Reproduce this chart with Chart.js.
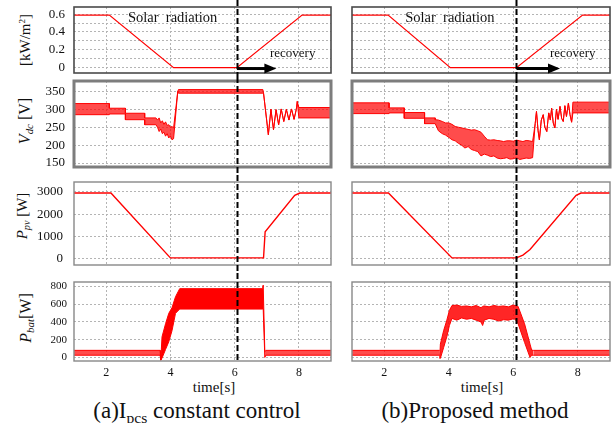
<!DOCTYPE html>
<html>
<head>
<meta charset="utf-8">
<script src="https://cdn.jsdelivr.net/npm/chart.js@4.4.1/dist/chart.umd.min.js"></script>
<style>
  body { margin: 0; background: #fff; }
  #fig { position: relative; width: 616px; height: 423px; overflow: hidden;
         font-family: "Liberation Serif", "Times New Roman", serif; color: #111; }
  #fig canvas { position: absolute; }
  .lbl { position: absolute; white-space: nowrap; line-height: 1; transform: translate(-50%, -50%); }
  .rot { transform: translate(-50%, -50%) rotate(-90deg); }
  .lbl sub { font-size: 0.68em; vertical-align: baseline; position: relative; top: 0.32em; }
  .lbl sup { font-size: 0.6em; vertical-align: baseline; position: relative; top: -0.55em; }
</style>
</head>
<body>
<div id="fig">
  <div class="lbl rot" style="left:25px;top:40px;font-size:15px">[kW/m<sup>2</sup>]</div>
  <div class="lbl rot" style="left:25px;top:121px;font-size:16px"><i>V<sub>dc</sub></i> [V]</div>
  <div class="lbl rot" style="left:22px;top:216px;font-size:15px"><i>P<sub>pv</sub></i> [W]</div>
  <div class="lbl rot" style="left:26px;top:318px;font-size:16px"><i>P<sub>bat</sub></i>[W]</div>
  <div class="lbl" style="left:214px;top:387px;font-size:15px">time[s]</div>
  <div class="lbl" style="left:482px;top:387px;font-size:15px">time[s]</div>
  <div class="lbl" style="left:197px;top:410px;font-size:23px">(a)I<sub>pcs</sub> constant control</div>
  <div class="lbl" style="left:475px;top:410px;font-size:23px">(b)Proposed method</div>
</div>
<script>
// ---- data ----
const timeTicks = [2, 4, 6, 8];
const timeLabels = ['2', '4', '6', '8'];

const solarTicks = [0, 0.1, 0.2, 0.3, 0.4, 0.5, 0.6];
const solarLabels = ['0', '', '0.2', '', '0.4', '', '0.6'];
const vdcTicks = [150, 200, 250, 300, 350];
const vdcLabels = ['150', '200', '250', '300', '350'];
const pvTicks = [0, 1000, 2000, 3000];
const pvLabels = ['0', '1000', '2000', '3000'];
const batTicks = [0, 200, 400, 600, 800];
const batLabels = ['0', '200', '400', '600', '800'];

// moment the dashed marker is drawn (s)
const eventA = 6.07;
const eventB = 6.1;

// solar radiation [kW/m2]
const solarTimeA = [1, 2.1, 4.1, 6.07, 8.1, 9];
const solarA = [0.59, 0.59, 0, 0, 0.59, 0.59];
const solarTimeB = [1, 2.12, 4.05, 6.1, 8.15, 9];
const solarB = [0.59, 0.59, 0, 0, 0.59, 0.59];

// DC link voltage: upper / lower edge of the ripple
const vdcTimeA = [1, 2.1, 2.1, 2.6, 2.6, 3.2, 3.2, 3.55,
  3.55, 3.6, 3.65, 3.7, 3.75, 3.8, 3.85, 3.9, 3.95, 4.0, 4.05, 4.1,
  4.23, 4.25, 6.88, 6.9, 7.05, 7.13, 7.21, 7.29, 7.37, 7.45, 7.53, 7.61, 7.69, 7.77, 7.85, 7.92, 7.95, 8.0, 9];
const vdcHiA = [316, 316, 303, 303, 289, 289, 276, 276,
  276, 270, 276, 262, 268, 258, 265, 255, 257, 250, 252, 248,
  350, 355, 355, 345, 229, 300, 243, 299, 257, 301, 266, 300, 270, 301, 272, 300, 322, 305, 305];
const vdcLoA = [285, 285, 287, 287, 271, 271, 257, 257,
  257, 250, 238, 245, 232, 236, 225, 232, 220, 226, 215, 218,
  350, 345, 345, 345, 229, 300, 243, 299, 257, 301, 266, 300, 270, 301, 272, 300, 322, 276, 276];

const vdcTimeB = [1, 2.15, 2.15, 2.62, 2.62, 3.25, 3.25, 3.58,
  3.58, 3.68, 3.8, 3.9, 4.0, 4.1, 4.2, 4.3, 4.4, 4.5, 4.6, 4.7, 4.8, 4.9, 5.0, 5.1, 5.2, 5.3, 5.4, 5.5,
  5.6, 5.7, 5.8, 5.9, 6.0, 6.1, 6.2, 6.3, 6.4, 6.5, 6.6,
  6.68, 6.72, 6.77, 6.81, 6.87, 6.93, 6.98, 7.04, 7.1, 7.15, 7.19, 7.24, 7.29, 7.34, 7.39, 7.45, 7.5, 7.55,
  7.6, 7.65, 7.71, 7.76, 7.81, 7.85, 9];
const vdcHiB = [318, 318, 304, 304, 291, 291, 276, 276,
  271, 270, 266, 262, 262, 258, 252, 250, 248, 246, 244, 242, 243, 240, 236, 225, 215, 214, 215, 213,
  212, 210, 212, 212, 211, 214, 212, 210, 213, 212, 210,
  260, 294, 240, 215, 270, 285, 250, 238, 290, 270, 303, 262, 248, 300, 272, 308, 275, 266,
  310, 280, 317, 285, 264, 320, 320];
const vdcLoB = [288, 288, 290, 290, 275, 275, 260, 260,
  260, 240, 232, 228, 222, 215, 212, 205, 200, 192, 196, 188, 185, 182, 170, 175, 172, 168, 170, 164,
  162, 163, 165, 161, 162, 165, 160, 162, 164, 163, 165,
  260, 294, 240, 215, 270, 285, 250, 238, 290, 270, 303, 262, 248, 300, 272, 308, 275, 266,
  310, 280, 317, 285, 264, 290, 290];

// PV power [W]
const pvTimeA = [1, 2.15, 4.0, 6.9, 6.95, 7.87, 8.03, 9];
const pvA = [2950, 2950, 20, 20, 1200, 2850, 2950, 2950];
const pvTimeB = [1, 2.13, 4.1, 6.1, 6.3, 6.52, 7.95, 8.1, 9];
const pvB = [2950, 2950, 20, 20, 150, 400, 2850, 2950, 2950];

// battery power [W]: idle ripple and the charging event
const batIdleTimeA = [1, 3.68, 5, 6.97, 9];
const batIdleHiA = [80, 80, null, 80, 80];
const batIdleLoA = [25, 25, null, 25, 25];
const batTimeA = [3.68, 3.7, 3.74, 3.85, 3.95, 4.05, 4.16, 4.29, 6.87, 6.89, 6.94, 6.97];
const batHiA = [80, -30, 233, 380, 497, 560, 684, 775, 775, 815, 64, 80];
const batLoA = [25, -30, -7, 90, 177, 300, 497, 545, 545, 545, 0, 25];

const batIdleTimeB = [1, 3.72, 5, 6.62, 9];
const batIdleHiB = [80, 80, null, 80, 80];
const batIdleLoB = [25, 25, null, 25, 25];
const batTimeB = [3.72, 3.74, 3.84, 3.94, 4.02, 4.1, 4.25, 4.4, 4.55, 4.7, 4.85, 5.0, 5.05, 5.1, 5.25, 5.4,
  5.55, 5.7, 5.85, 6.0, 6.06, 6.15, 6.35, 6.52, 6.57, 6.62];
const batHiB = [-10, 150, 300, 420, 530, 585, 590, 575, 580, 570, 585, 560, 575, 580, 570, 585,
  575, 580, 570, 590, 585, 575, 380, 150, 83, 80];
const batLoB = [-10, -10, 110, 233, 360, 440, 420, 445, 430, 440, 420, 400, 360, 420, 440, 430,
  410, 425, 420, 435, 430, 380, 170, 0, 25, 25];

// ---- drawing ----
const RED = '#ff0000';
const GRID = '#b4b4b4';
const SERIF = '"Liberation Serif", "Times New Roman", serif';
const fig = document.getElementById('fig');

const ROWS = [
  { top: 0, h: 77, padTop: 7, padBottom: 4 },
  { top: 77, h: 98, padTop: 4, padBottom: 8 },
  { top: 175, h: 98, padTop: 7, padBottom: 8 },
  { top: 273, h: 150, padTop: 9, padBottom: 40 }
];

function pts(t, v) { return t.map((x, i) => ({ x: x, y: v[i] })); }

function line(t, v, w) {
  return { data: pts(t, v), borderColor: RED, borderWidth: w, pointRadius: 0, fill: false, tension: 0 };
}

function band(t, hi, lo, alpha) {
  return [
    { data: pts(t, hi), borderColor: RED, borderWidth: 1, pointRadius: 0, fill: false, tension: 0 },
    { data: pts(t, lo), borderColor: RED, borderWidth: 1, pointRadius: 0, tension: 0,
      fill: '-1', backgroundColor: 'rgba(255,0,0,' + alpha + ')' }
  ];
}

const decoPlugin = {
  id: 'deco',
  defaults: {},
  afterDatasetsDraw(chart, args, o) {
    const ctx = chart.ctx, a = chart.chartArea, x = chart.scales.x, y = chart.scales.y;
    ctx.save();
    ctx.strokeStyle = o.borderColor;
    ctx.lineWidth = o.borderWidth;
    ctx.strokeRect(a.left, a.top, a.right - a.left, a.bottom - a.top);

    ctx.fillStyle = '#111';
    ctx.textBaseline = 'middle';
    ctx.textAlign = 'left';
    (o.texts || []).forEach(t => {
      ctx.font = t.size + 'px ' + SERIF;
      ctx.fillText(t.text, x.getPixelForValue(t.x), y.getPixelForValue(t.y));
    });

    if (o.arrow) {
      const x0 = x.getPixelForValue(o.arrow.from), x1 = x.getPixelForValue(o.arrow.to);
      const yy = y.getPixelForValue(o.arrow.y);
      ctx.strokeStyle = '#000';
      ctx.fillStyle = '#000';
      ctx.lineWidth = 3;
      ctx.beginPath(); ctx.moveTo(x0, yy); ctx.lineTo(x1 - 10, yy); ctx.stroke();
      ctx.beginPath(); ctx.moveTo(x1, yy); ctx.lineTo(x1 - 12, yy - 5); ctx.lineTo(x1 - 12, yy + 5); ctx.closePath(); ctx.fill();
    }

    const vx = Math.round(x.getPixelForValue(o.event)) + 0.5;
    ctx.strokeStyle = '#000';
    ctx.lineWidth = 2;
    ctx.setLineDash([6, 3]);
    ctx.beginPath();
    ctx.moveTo(vx, 0);
    ctx.lineTo(vx, o.stopAtAxis ? a.bottom + 1 : chart.height);
    ctx.stroke();
    ctx.restore();
  }
};
Chart.register(decoPlugin);

function panel(col, row, datasets, yMin, yMax, yTicks, yLabels, yFont, yPad, deco) {
  const r = ROWS[row];
  const cx = col === 0 ? 0 : 340, cw = col === 0 ? 340 : 276;
  const c = document.createElement('canvas');
  c.width = cw; c.height = r.h;
  c.style.left = cx + 'px'; c.style.top = r.top + 'px';
  c.style.width = cw + 'px'; c.style.height = r.h + 'px';
  fig.appendChild(c);
  const showX = row === 3;
  new Chart(c, {
    type: 'line',
    data: { datasets: datasets },
    options: {
      responsive: false,
      animation: false,
      devicePixelRatio: 1,
      layout: { padding: { left: col === 0 ? 0 : 12, right: col === 0 ? 9 : 6, top: r.padTop, bottom: r.padBottom } },
      plugins: { legend: { display: false }, tooltip: { enabled: false }, deco: deco },
      scales: {
        x: {
          type: 'linear', min: 1, max: 9,
          afterBuildTicks: s => { s.ticks = timeTicks.map(v => ({ value: v })); },
          afterFit: s => { s.height = showX ? 22 : 0; s.paddingLeft = 0; s.paddingRight = 0; },
          grid: { color: GRID, lineWidth: 1, drawTicks: false },
          border: { display: false, dash: [2, 2] },
          ticks: { display: showX, autoSkip: false, maxRotation: 0, padding: 5, color: '#111',
                   font: { family: SERIF, size: 12 }, callback: (v, i) => timeLabels[i] }
        },
        y: {
          type: 'linear', min: yMin, max: yMax,
          afterBuildTicks: s => { s.ticks = yTicks.map(v => ({ value: v })); },
          afterFit: s => { s.width = col === 0 ? 74 : 0; s.paddingTop = 0; s.paddingBottom = 0; },
          grid: { color: GRID, lineWidth: 1, drawTicks: false },
          border: { display: false, dash: [2, 2] },
          ticks: { display: col === 0, autoSkip: false, padding: yPad, color: '#111',
                   font: { family: SERIF, size: yFont }, callback: (v, i) => yLabels[i] }
        }
      }
    }
  });
}

function drawAll() {
  // row 1: solar radiation
  panel(0, 0, [line(solarTimeA, solarA, 1.2)], -0.06, 0.68, solarTicks, solarLabels, 13, 9, {
    borderColor: '#4a4a4a', borderWidth: 1.6, event: eventA,
    texts: [{ text: 'Solar  radiation', x: 2.68, y: 0.555, size: 14.5 }, { text: 'recovery', x: 7.1, y: 0.156, size: 13 }],
    arrow: { from: eventA, to: 7.3, y: -0.01 }
  });
  panel(1, 0, [line(solarTimeB, solarB, 1.2)], -0.06, 0.68, solarTicks, solarLabels, 13, 9, {
    borderColor: '#4a4a4a', borderWidth: 1.6, event: eventB,
    texts: [{ text: 'Solar  radiation', x: 2.65, y: 0.56, size: 14.5 }, { text: 'recovery', x: 7.14, y: 0.156, size: 13 }],
    arrow: { from: eventB, to: 7.45, y: -0.01 }
  });

  // row 2: DC voltage
  panel(0, 1, band(vdcTimeA, vdcHiA, vdcLoA, 0.7), 139, 379, vdcTicks, vdcLabels, 13, 9, {
    borderColor: '#7d7d7d', borderWidth: 3, event: eventA
  });
  panel(1, 1, band(vdcTimeB, vdcHiB, vdcLoB, 0.7), 139, 379, vdcTicks, vdcLabels, 13, 9, {
    borderColor: '#7d7d7d', borderWidth: 3, event: eventB
  });

  // row 3: PV power
  panel(0, 2, [line(pvTimeA, pvA, 1.4)], -300, 3450, pvTicks, pvLabels, 13, 11, {
    borderColor: '#888', borderWidth: 1.4, event: eventA
  });
  panel(1, 2, [line(pvTimeB, pvB, 1.4)], -300, 3450, pvTicks, pvLabels, 13, 11, {
    borderColor: '#888', borderWidth: 1.4, event: eventB
  });

  // row 4: battery power
  panel(0, 3, band(batIdleTimeA, batIdleHiA, batIdleLoA, 0.7).concat(band(batTimeA, batHiA, batLoA, 1)),
    -40, 850, batTicks, batLabels, 11, 7, { borderColor: '#888', borderWidth: 1.4, event: eventA, stopAtAxis: true });
  panel(1, 3, band(batIdleTimeB, batIdleHiB, batIdleLoB, 0.7).concat(band(batTimeB, batHiB, batLoB, 0.85)),
    -40, 850, batTicks, batLabels, 11, 7, { borderColor: '#888', borderWidth: 1.4, event: eventB, stopAtAxis: true });
}

// make sure the serif face is ready before the canvases paint text
document.fonts.load('13px "Liberation Serif"').then(drawAll, drawAll);
</script>
</body>
</html>
